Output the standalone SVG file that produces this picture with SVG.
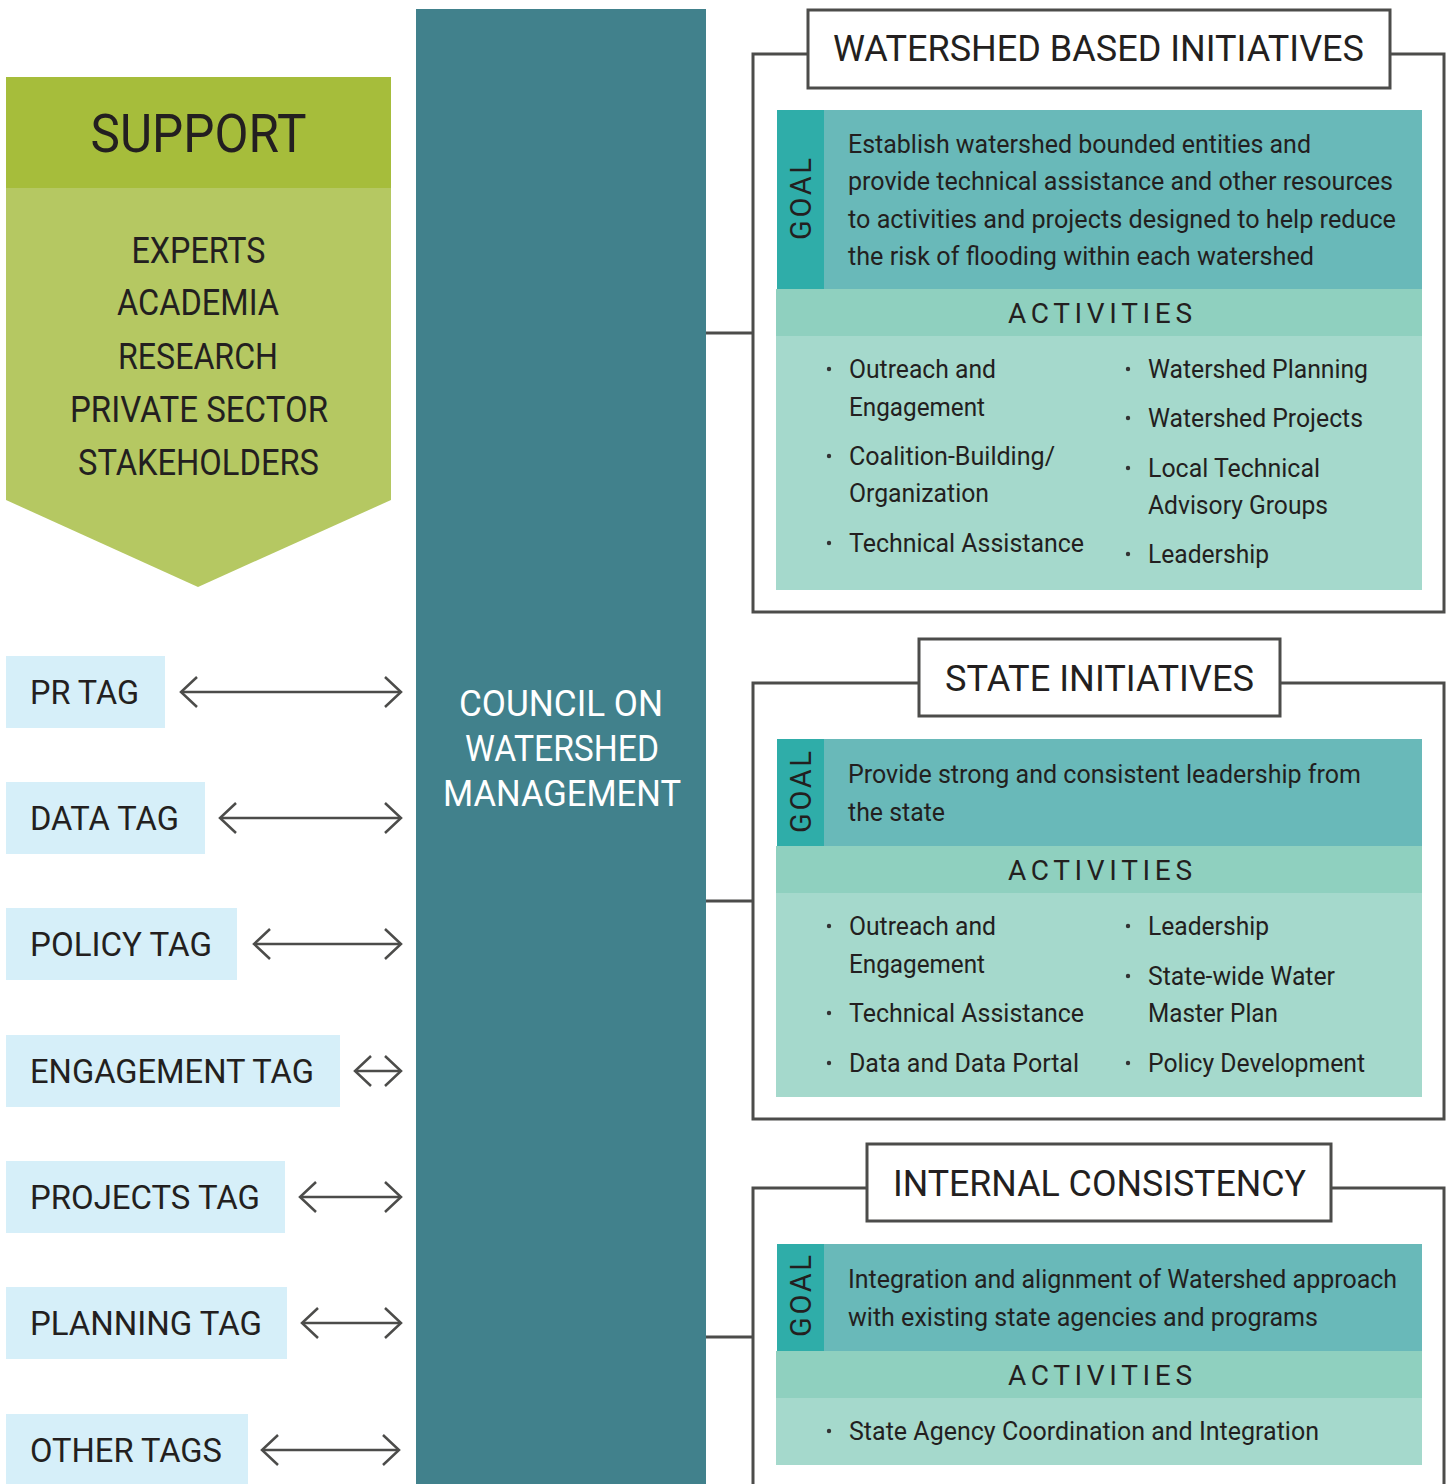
<svg xmlns="http://www.w3.org/2000/svg" width="1452" height="1484" viewBox="0 0 1452 1484">
<style>
text{font-family:Roboto,"Liberation Sans",sans-serif;fill:#231f20}
.sup{font-size:36px}
.tag{font-size:34px}
.cw{font-size:36px;fill:#ffffff}
.ttl{font-size:36px}
.goal{font-size:29px}
.gt{font-size:26px}
.act{font-size:28px}
.bl{font-size:26px}
.frame{fill:none;stroke:#4c4c4a;stroke-width:3}
.hbox{fill:#ffffff;stroke:#4c4c4a;stroke-width:3}
.tagbg{fill:#d6eff9}
.gs{fill:#2fada9}
.gb{fill:#69b9b9}
.ah{fill:#8fd0bf}
.ab{fill:#a5d9cc}
.dot{fill:#333}
.conn{stroke:#4c4c4a;stroke-width:3;fill:none}
.arr{stroke:#4c4c4a;stroke-width:2.5;fill:none;marker-start:url(#chev);marker-end:url(#chev)}
</style>
<defs>
<marker id="chev" markerUnits="userSpaceOnUse" markerWidth="40" markerHeight="40" viewBox="-20 -20 40 40" refX="0" refY="0" orient="auto-start-reverse">
<path d="M-16,-15 L0,0 L-16,15" fill="none" stroke="#4c4c4a" stroke-width="2.5"/>
</marker>
</defs>
<rect width="1452" height="1484" fill="#ffffff"/>

<g id="support">
<path d="M6,188 H391 V500 L198,587 L6,500 Z" fill="#b5c862"/>
<rect x="6" y="77" width="385" height="111" fill="#a6bd3b"/>
<text x="198.5" y="152" font-size="54" text-anchor="middle" textLength="216" lengthAdjust="spacingAndGlyphs">SUPPORT</text>
<text class="sup" x="198.5" y="263" text-anchor="middle" textLength="134" lengthAdjust="spacingAndGlyphs">EXPERTS</text>
<text class="sup" x="198" y="315" text-anchor="middle" textLength="162" lengthAdjust="spacingAndGlyphs">ACADEMIA</text>
<text class="sup" x="198" y="369" text-anchor="middle" textLength="160" lengthAdjust="spacingAndGlyphs">RESEARCH</text>
<text class="sup" x="199" y="422" text-anchor="middle" textLength="258" lengthAdjust="spacingAndGlyphs">PRIVATE SECTOR</text>
<text class="sup" x="198.5" y="475" text-anchor="middle" textLength="241" lengthAdjust="spacingAndGlyphs">STAKEHOLDERS</text>
</g>

<g id="council">
<rect x="416" y="9" width="290" height="1475" fill="#41818c"/>
<text class="cw" x="561" y="716" text-anchor="middle" textLength="204" lengthAdjust="spacingAndGlyphs">COUNCIL ON</text>
<text class="cw" x="562" y="761" text-anchor="middle" textLength="194" lengthAdjust="spacingAndGlyphs">WATERSHED</text>
<text class="cw" x="562" y="806" text-anchor="middle" textLength="238" lengthAdjust="spacingAndGlyphs">MANAGEMENT</text>
</g>

<g id="tag-pr"><rect class="tagbg" x="6" y="656" width="159" height="72"/><text class="tag" x="30" y="704" textLength="109" lengthAdjust="spacingAndGlyphs">PR TAG</text></g>
<g id="tag-data"><rect class="tagbg" x="6" y="782" width="199" height="72"/><text class="tag" x="30" y="830" textLength="149" lengthAdjust="spacingAndGlyphs">DATA TAG</text></g>
<g id="tag-policy"><rect class="tagbg" x="6" y="908" width="231" height="72"/><text class="tag" x="30" y="956" textLength="182" lengthAdjust="spacingAndGlyphs">POLICY TAG</text></g>
<g id="tag-engagement"><rect class="tagbg" x="6" y="1035" width="334" height="72"/><text class="tag" x="30" y="1083" textLength="284" lengthAdjust="spacingAndGlyphs">ENGAGEMENT TAG</text></g>
<g id="tag-projects"><rect class="tagbg" x="6" y="1161" width="279" height="72"/><text class="tag" x="30" y="1209" textLength="230" lengthAdjust="spacingAndGlyphs">PROJECTS TAG</text></g>
<g id="tag-planning"><rect class="tagbg" x="6" y="1287" width="281" height="72"/><text class="tag" x="30" y="1335" textLength="232" lengthAdjust="spacingAndGlyphs">PLANNING TAG</text></g>
<g id="tag-other"><rect class="tagbg" x="6" y="1414" width="242" height="72"/><text class="tag" x="30" y="1462" textLength="192" lengthAdjust="spacingAndGlyphs">OTHER TAGS</text></g>

<g id="panel-watershed">
<path class="frame" d="M753,54 H1444 V612 H753 Z"/>
<rect class="hbox" x="808" y="10" width="582" height="78"/>
<text class="ttl" x="1098.5" y="61" text-anchor="middle" textLength="531" lengthAdjust="spacingAndGlyphs">WATERSHED BASED INITIATIVES</text>
<rect class="gb" x="777" y="110" width="645" height="179"/>
<rect class="gs" x="777" y="110" width="47" height="179"/>
<text class="goal" transform="translate(811,199) rotate(-90)" text-anchor="middle" textLength="82" lengthAdjust="spacing">GOAL</text>
<text class="gt" x="848" y="153" textLength="463" lengthAdjust="spacingAndGlyphs">Establish watershed bounded entities and</text>
<text class="gt" x="848" y="190" textLength="545" lengthAdjust="spacingAndGlyphs">provide technical assistance and other resources</text>
<text class="gt" x="848" y="228" textLength="548" lengthAdjust="spacingAndGlyphs">to activities and projects designed to help reduce</text>
<text class="gt" x="848" y="265" textLength="466" lengthAdjust="spacingAndGlyphs">the risk of flooding within each watershed</text>
<rect class="ah" x="776" y="289" width="646" height="47"/>
<text class="act" x="1100" y="323" text-anchor="middle" textLength="184" lengthAdjust="spacing">ACTIVITIES</text>
<rect class="ab" x="776" y="336" width="646" height="254"/>
<circle class="dot" cx="829" cy="369" r="2.2"/>
<text class="bl" x="849" y="378" textLength="147" lengthAdjust="spacingAndGlyphs">Outreach and</text>
<text class="bl" x="849" y="416" textLength="136" lengthAdjust="spacingAndGlyphs">Engagement</text>
<circle class="dot" cx="829" cy="456" r="2.2"/>
<text class="bl" x="849" y="465" textLength="206" lengthAdjust="spacingAndGlyphs">Coalition-Building/</text>
<text class="bl" x="849" y="502" textLength="140" lengthAdjust="spacingAndGlyphs">Organization</text>
<circle class="dot" cx="829" cy="543" r="2.2"/>
<text class="bl" x="849" y="552" textLength="235" lengthAdjust="spacingAndGlyphs">Technical Assistance</text>
<circle class="dot" cx="1128" cy="369" r="2.2"/>
<text class="bl" x="1148" y="378" textLength="220" lengthAdjust="spacingAndGlyphs">Watershed Planning</text>
<circle class="dot" cx="1128" cy="418" r="2.2"/>
<text class="bl" x="1148" y="427" textLength="215" lengthAdjust="spacingAndGlyphs">Watershed Projects</text>
<circle class="dot" cx="1128" cy="468" r="2.2"/>
<text class="bl" x="1148" y="477" textLength="172" lengthAdjust="spacingAndGlyphs">Local Technical</text>
<text class="bl" x="1148" y="514" textLength="180" lengthAdjust="spacingAndGlyphs">Advisory Groups</text>
<circle class="dot" cx="1128" cy="554" r="2.2"/>
<text class="bl" x="1148" y="563" textLength="121" lengthAdjust="spacingAndGlyphs">Leadership</text>
</g>

<g id="panel-state">
<path class="frame" d="M753,683 H1444 V1119 H753 Z"/>
<rect class="hbox" x="919" y="639" width="361" height="77"/>
<text class="ttl" x="1099.5" y="691" text-anchor="middle" textLength="309" lengthAdjust="spacingAndGlyphs">STATE INITIATIVES</text>
<rect class="gb" x="777" y="739" width="645" height="107"/>
<rect class="gs" x="777" y="739" width="47" height="107"/>
<text class="goal" transform="translate(811,792) rotate(-90)" text-anchor="middle" textLength="82" lengthAdjust="spacing">GOAL</text>
<text class="gt" x="848" y="783" textLength="513" lengthAdjust="spacingAndGlyphs">Provide strong and consistent leadership from</text>
<text class="gt" x="848" y="821" textLength="97" lengthAdjust="spacingAndGlyphs">the state</text>
<rect class="ah" x="776" y="846" width="646" height="47"/>
<text class="act" x="1100" y="880" text-anchor="middle" textLength="184" lengthAdjust="spacing">ACTIVITIES</text>
<rect class="ab" x="776" y="893" width="646" height="204"/>
<circle class="dot" cx="829" cy="926" r="2.2"/>
<text class="bl" x="849" y="935" textLength="147" lengthAdjust="spacingAndGlyphs">Outreach and</text>
<text class="bl" x="849" y="973" textLength="136" lengthAdjust="spacingAndGlyphs">Engagement</text>
<circle class="dot" cx="829" cy="1013" r="2.2"/>
<text class="bl" x="849" y="1022" textLength="235" lengthAdjust="spacingAndGlyphs">Technical Assistance</text>
<circle class="dot" cx="829" cy="1063" r="2.2"/>
<text class="bl" x="849" y="1072" textLength="230" lengthAdjust="spacingAndGlyphs">Data and Data Portal</text>
<circle class="dot" cx="1128" cy="926" r="2.2"/>
<text class="bl" x="1148" y="935" textLength="121" lengthAdjust="spacingAndGlyphs">Leadership</text>
<circle class="dot" cx="1128" cy="976" r="2.2"/>
<text class="bl" x="1148" y="985" textLength="187" lengthAdjust="spacingAndGlyphs">State-wide Water</text>
<text class="bl" x="1148" y="1022" textLength="130" lengthAdjust="spacingAndGlyphs">Master Plan</text>
<circle class="dot" cx="1128" cy="1063" r="2.2"/>
<text class="bl" x="1148" y="1072" textLength="217" lengthAdjust="spacingAndGlyphs">Policy Development</text>
</g>

<g id="panel-internal">
<path class="frame" d="M753,1490 V1188 H1444 V1490"/>
<rect class="hbox" x="867" y="1144" width="464" height="77"/>
<text class="ttl" x="1099.5" y="1196" text-anchor="middle" textLength="413" lengthAdjust="spacingAndGlyphs">INTERNAL CONSISTENCY</text>
<rect class="gb" x="777" y="1244" width="645" height="107"/>
<rect class="gs" x="777" y="1244" width="47" height="107"/>
<text class="goal" transform="translate(811,1296) rotate(-90)" text-anchor="middle" textLength="82" lengthAdjust="spacing">GOAL</text>
<text class="gt" x="848" y="1288" textLength="549" lengthAdjust="spacingAndGlyphs">Integration and alignment of Watershed approach</text>
<text class="gt" x="848" y="1326" textLength="470" lengthAdjust="spacingAndGlyphs">with existing state agencies and programs</text>
<rect class="ah" x="776" y="1351" width="646" height="47"/>
<text class="act" x="1100" y="1385" text-anchor="middle" textLength="184" lengthAdjust="spacing">ACTIVITIES</text>
<rect class="ab" x="776" y="1398" width="646" height="67"/>
<circle class="dot" cx="829" cy="1431" r="2.2"/>
<text class="bl" x="849" y="1440" textLength="470" lengthAdjust="spacingAndGlyphs">State Agency Coordination and Integration</text>
</g>

<g id="connectors">
<line class="conn" x1="706" y1="333" x2="753" y2="333"/>
<line class="conn" x1="706" y1="901" x2="753" y2="901"/>
<line class="conn" x1="706" y1="1337" x2="753" y2="1337"/>
<line class="arr" x1="181" y1="692" x2="401" y2="692"/>
<line class="arr" x1="220" y1="818" x2="401" y2="818"/>
<line class="arr" x1="254" y1="944" x2="401" y2="944"/>
<line class="arr" x1="355" y1="1071" x2="401" y2="1071"/>
<line class="arr" x1="300" y1="1197" x2="401" y2="1197"/>
<line class="arr" x1="302" y1="1323" x2="401" y2="1323"/>
<line class="arr" x1="262" y1="1450" x2="399" y2="1450"/>
</g>
</svg>
